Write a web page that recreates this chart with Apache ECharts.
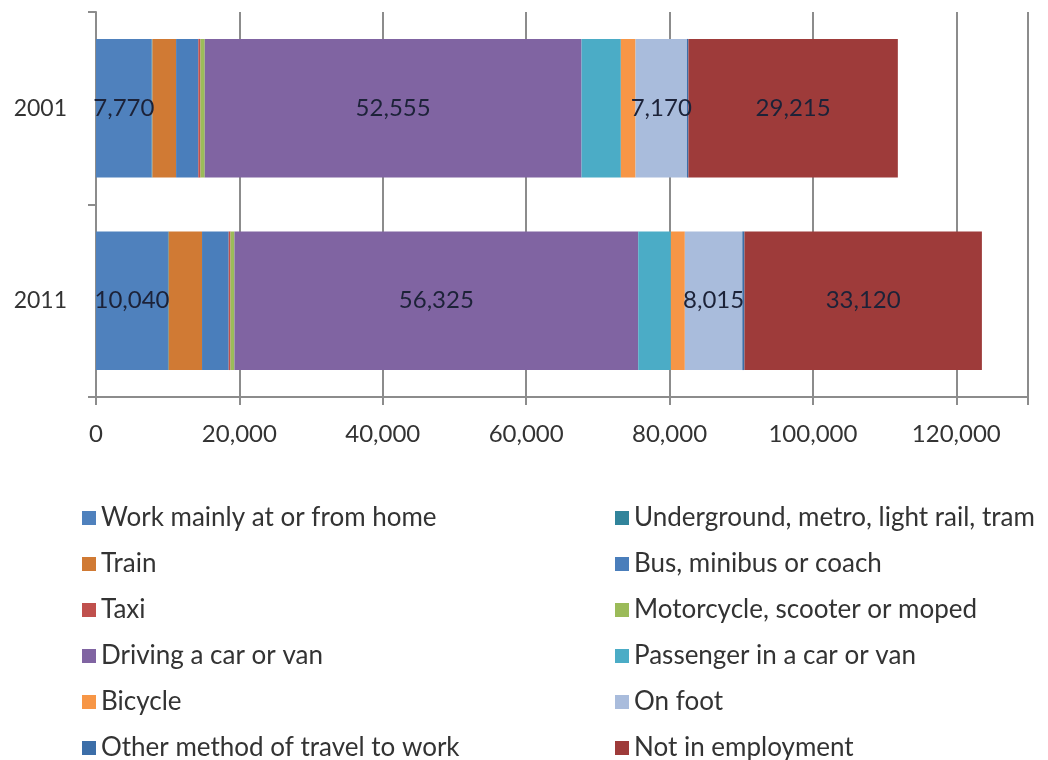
<!DOCTYPE html>
<html><head><meta charset="utf-8">
<script src="https://cdn.jsdelivr.net/npm/echarts@6/dist/echarts.min.js"></script>
<style>html,body{margin:0;padding:0;background:#fff}#c{width:1048px;height:760px}</style>
</head><body><div id="c"></div>
<script>
const categories = ['2001', '2011'];
const seriesNames = ['Work mainly at or from home','Underground, metro, light rail, tram','Train','Bus, minibus or coach','Taxi','Motorcycle, scooter or moped','Driving a car or van','Passenger in a car or van','Bicycle','On foot','Other method of travel to work','Not in employment'];
const workHome   = [7770, 10040];
const underground= [100, 100];
const train      = [3300, 4650];
const bus        = [3100, 3720];
const taxi       = [300, 250];
const motorcycle = [600, 550];
const driving    = [52555, 56325];
const passenger  = [5485, 4550];
const bicycle    = [2050, 1950];
const onFoot     = [7170, 8015];
const other      = [200, 300];
const notEmployed= [29215, 33120];
const xTicks = [0, 20000, 40000, 60000, 80000, 100000, 120000];
const labelled = ['Work mainly at or from home','Driving a car or van','On foot','Not in employment'];

const values = [workHome, underground, train, bus, taxi, motorcycle, driving, passenger, bicycle, onFoot, other, notEmployed];
const colors = ['#4f81bd','#31849b','#d07a34','#4a7ebb','#c0504d','#9bbb59','#8064a2','#4bacc6','#f79646','#a9bcdc','#3c6ea8','#9e3b3a'];
const font = 'Lato, "Open Sans", sans-serif';

const series = seriesNames.map((n, i) => ({
  name: n, type: 'bar', stack: 'total', data: values[i], barWidth: '72%',
  itemStyle: { color: colors[i] },
  label: labelled.includes(n) ? { show: true, position: 'inside', color: '#1c2238', fontSize: 24, fontFamily: font,
    formatter: p => p.value.toLocaleString('en-US') } : { show: false }
}));

const legendText = { fontSize: 26, color: '#333', fontFamily: font };
const chart = echarts.init(document.getElementById('c'));
chart.setOption({
  animation: false,
  color: colors,
  grid: { left: 96, right: 20, top: 12, bottom: 363 },
  xAxis: {
    type: 'value', min: 0, max: 130000, interval: 20000,
    axisLine: { show: true, lineStyle: { color: '#8c8c8c', width: 2 } },
    axisTick: { show: true, length: 8, lineStyle: { color: '#8c8c8c', width: 2 } },
    splitLine: { show: true, lineStyle: { color: '#8c8c8c', width: 2 } },
    axisLabel: { color: '#333', fontSize: 24, fontFamily: font, margin: 25,
      formatter: v => xTicks.includes(v) ? v.toLocaleString('en-US') : '' }
  },
  yAxis: {
    type: 'category', data: categories, inverse: true,
    axisLine: { show: true, lineStyle: { color: '#8c8c8c', width: 2 } },
    axisTick: { show: true, length: 8, lineStyle: { color: '#8c8c8c', width: 2 } },
    axisLabel: { color: '#333', fontSize: 23, fontFamily: font, margin: 29 }
  },
  legend: [
    { orient: 'vertical', left: 77, top: 500, width: 500, height: 260, itemWidth: 14, itemHeight: 14, itemGap: 20,
      icon: 'rect', textStyle: legendText,
      data: seriesNames.filter((_, i) => i % 2 === 0) },
    { orient: 'vertical', left: 610, top: 500, width: 438, height: 260, itemWidth: 14, itemHeight: 14, itemGap: 20,
      icon: 'rect', textStyle: legendText,
      data: seriesNames.filter((_, i) => i % 2 === 1) }
  ],
  series
});
</script></body></html>
